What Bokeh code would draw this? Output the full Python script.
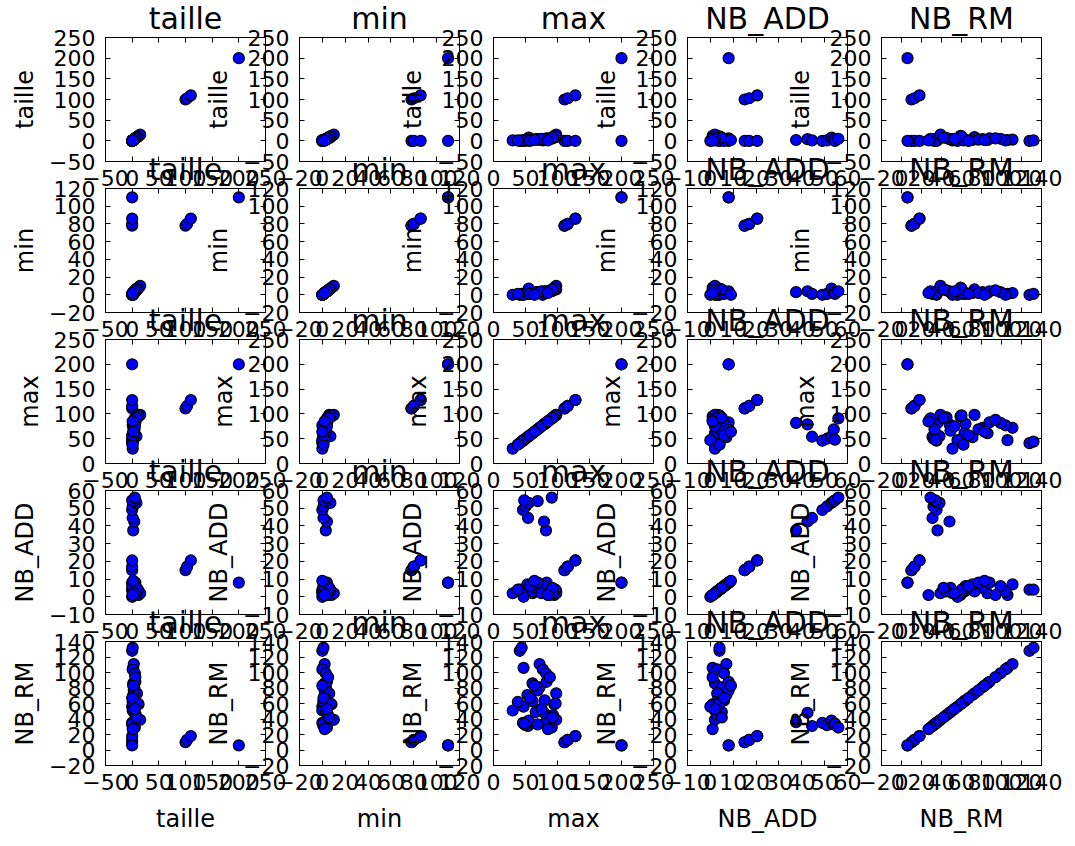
from bokeh.plotting import figure
from bokeh.layouts import row, column
from bokeh.models import FixedTicker, LinearAxis, CustomJSTickFormatter, Range1d, ColumnDataSource
from bokeh.embed import file_html
from bokeh.resources import INLINE

# ---------------- data ----------------
taille = [100, 103, 110, 200, 0, 0, 0, 0,
          2, 4, 1, 0, 1, 8, 4, 0, 5,
          0, 1, 2, 3, 1, 5, 2, 4, 6, 9, 12, 3, 2, 0, 1, 4, 15, 2, 1, 11, 3, 0, 6, 7, 8, 5, 2, 1]
min_vals = [78, 80, 86, 110, 78, 80, 86, 110,
            3, 4, 1, 0, 1, 7, 3, 1, 4,
            0, 1, 1, 2, 0, 3, 2, 3, 4, 6, 8, 2, 1, 0, 0, 3, 10, 2, 1, 7, 2, 1, 5, 5, 6, 4, 0, 2]
max_vals = [111, 116, 128, 200, 111, 116, 128, 200,
            82, 79, 54, 46, 50, 55, 69, 48, 91,
            41, 44, 47, 72, 77, 82, 61, 72, 83, 98, 95, 80, 61, 47, 30, 66, 98, 53, 38, 97, 69, 57, 88, 93, 92, 75, 64, 85]
nb_add = [15, 17, 20.5, 8, 15, 17, 20.5, 8,
          37.5, 42.5, 44.5, 49, 51, 53, 54, 54.5, 56,
          4, 4, 1, 7, 3, 6, 2, 5, 8, 3, 1, 6, 3, 0, 2, 5, 2, 7, 4, 4, 8, 6, 1, 3, 5, 2, 9, 1]
nb_rm = [10, 13, 18, 6, 10, 13, 18, 6,
         36, 48, 31, 35, 32, 38, 33, 34, 29,
         128, 132, 106, 111, 104, 99, 86, 81, 88, 73, 59, 64, 63, 56, 51, 49, 39, 71, 62, 60, 77, 67, 94, 45, 42, 53, 83, 27]

names = ["taille", "min", "max", "NB_ADD", "NB_RM"]
columns = ["taille", "min_v", "max_v", "nb_add", "nb_rm"]
axis_ranges = [(-50, 250), (-20, 120), (0, 250), (-10, 60), (-20, 140)]
axis_ticks = [[-50, 0, 50, 100, 150, 200, 250],
              [-20, 0, 20, 40, 60, 80, 100, 120],
              [0, 50, 100, 150, 200, 250],
              [-10, 0, 10, 20, 30, 40, 50, 60],
              [-20, 0, 20, 40, 60, 80, 100, 120, 140]]

src = ColumnDataSource(dict(taille=taille, min_v=min_vals, max_v=max_vals, nb_add=nb_add, nb_rm=nb_rm))

FONT = "DejaVu Sans"
FW, FH = 160, 124
L, R, T, B, B_LAST = 104, 22, 44, 36, 73
PITCH_X, PITCH_Y = 194, 151

NEG = "return tick < 0 ? '\u2212' + Math.abs(tick) : '' + tick;"


def style_main_axis(ax, is_x):
    ax.axis_line_color = "black"
    ax.axis_line_width = 1
    ax.major_tick_in = 5
    ax.major_tick_out = 0
    ax.major_tick_line_color = "black"
    ax.minor_tick_line_color = None
    ax.major_label_text_font = FONT
    ax.major_label_text_font_size = "22px"
    ax.major_label_text_color = "black"
    ax.axis_label_text_font = FONT
    ax.axis_label_text_font_size = "24px"
    ax.axis_label_text_font_style = "normal"
    ax.axis_label_text_color = "black"
    ax.major_label_standoff = 8 if is_x else 10
    ax.axis_label_standoff = 12 if is_x else 7
    ax.formatter = CustomJSTickFormatter(code=NEG)


def mirror_axis(ticks):
    return LinearAxis(ticker=FixedTicker(ticks=ticks),
                      formatter=CustomJSTickFormatter(code="return '';"),
                      major_tick_in=5, major_tick_out=0, minor_tick_line_color=None,
                      major_label_text_font_size="0px", major_label_standoff=0,
                      axis_line_color="black", major_tick_line_color="black")


rows = []
for i in range(5):
    figs = []
    last = (i == 4)
    for j in range(5):
        kw = {}
        if last:
            kw["x_axis_label"] = names[j]
        p = figure(width=L + FW + R, height=T + FH + (B_LAST if last else B),
                   x_range=Range1d(*axis_ranges[j]), y_range=Range1d(*axis_ranges[i]),
                   output_backend="svg", toolbar_location=None, title=names[j],
                   y_axis_label=names[i],
                   min_border_left=L, min_border_right=R, min_border_top=T,
                   min_border_bottom=(B_LAST if last else B),
                   background_fill_color=None, border_fill_color=None,
                   outline_line_color="black", outline_line_width=1, **kw)
        p.title.align = "center"
        p.title.text_font = FONT
        p.title.text_font_size = "30px"
        p.title.text_font_style = "normal"
        p.title.text_color = "black"
        p.title.standoff = 4
        p.xgrid.visible = False
        p.ygrid.visible = False
        p.xaxis.ticker = FixedTicker(ticks=axis_ticks[j])
        p.yaxis.ticker = FixedTicker(ticks=axis_ticks[i])
        style_main_axis(p.xaxis[0], True)
        style_main_axis(p.yaxis[0], False)
        p.add_layout(mirror_axis(axis_ticks[j]), "above")
        p.add_layout(mirror_axis(axis_ticks[i]), "right")
        p.scatter(x=columns[j], y=columns[i], source=src, size=11,
                  fill_color="#0000ff", line_color="black", line_width=1.2)
        p.margin = (0, 0, 0, 1 if j == 0 else PITCH_X - (L + FW + R))
        figs.append(p)
    mt = -7 if i == 0 else PITCH_Y - (T + FH + B)
    mb = -11 if last else 0
    rows.append(row(*figs, margin=(mt, 0, mb, 0)))

layout = column(*rows)

open("out.html", "w").write(file_html(layout, INLINE))
